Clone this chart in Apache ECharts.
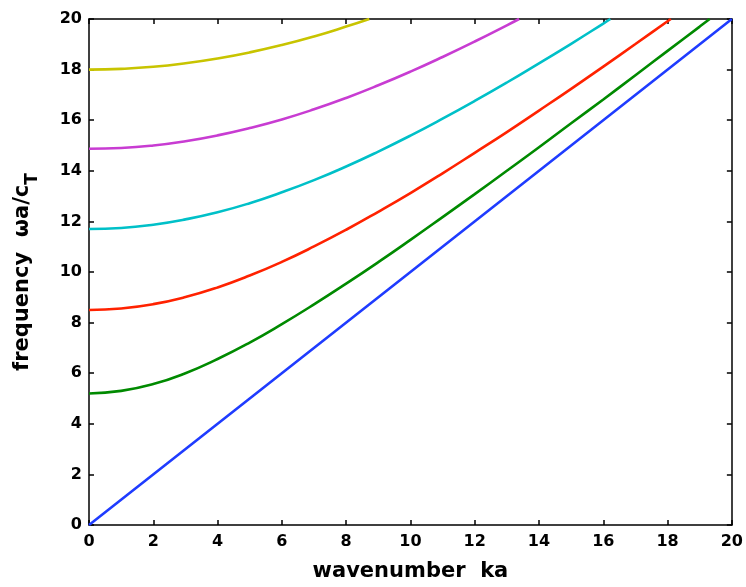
<!DOCTYPE html>
<html>
<head>
<meta charset="utf-8">
<script src="https://cdn.jsdelivr.net/npm/echarts@6/dist/echarts.min.js"></script>
<style>
html,body{margin:0;padding:0;background:#fff;}
#c{width:746px;height:587px;}
</style>
</head>
<body>
<div id="c"></div>
<script>
// Dispersion branches: [ka, ωa/c_T]
const mode0 = [[0,0],[5,5],[10,10],[15,15],[20,20]];
const mode1 = [[0,5.20],[1,5.30],[2,5.57],[3,6.00],[4,6.56],[5,7.21],[6,7.94],[7,8.72],[8,9.54],[9,10.39],[10,11.27],[11,12.17],[12,13.08],[13,14.00],[14,14.93],[15,15.88],[16,16.82],[17,17.78],[18,18.74],[19,19.70],[19.31,20]];
const mode2 = [[0,8.50],[1,8.56],[2,8.73],[3,9.01],[4,9.39],[5,9.86],[6,10.40],[7,11.01],[8,11.67],[9,12.38],[10,13.12],[11,13.90],[12,14.71],[13,15.53],[14,16.38],[15,17.24],[16,18.12],[17,19.01],[18,19.91],[18.1,20]];
const mode3 = [[0,11.70],[1,11.74],[2,11.87],[3,12.08],[4,12.36],[5,12.72],[6,13.15],[7,13.63],[8,14.17],[9,14.76],[10,15.39],[11,16.06],[12,16.76],[13,17.49],[14,18.25],[15,19.02],[16,19.82],[16.22,20]];
const mode4 = [[0,14.87],[1,14.90],[2,15.00],[3,15.17],[4,15.40],[5,15.69],[6,16.03],[7,16.43],[8,16.88],[9,17.38],[10,17.92],[11,18.50],[12,19.11],[13,19.75],[13.38,20]];
const mode5 = [[0,18.00],[1,18.03],[2,18.11],[3,18.25],[4,18.44],[5,18.68],[6,18.97],[7,19.31],[8,19.70],[8.72,20]];
const xTicks = [0,2,4,6,8,10,12,14,16,18,20];
const yTicks = [0,2,4,6,8,10,12,14,16,18,20];

const seriesData = [mode0, mode1, mode2, mode3, mode4, mode5];
const colors = ['#1f3cff', '#008a00', '#ff2200', '#00c0c8', '#c83cd2', '#c8c400'];

const chart = echarts.init(document.getElementById('c'), null, {renderer:'canvas'});
const font = 'DejaVu Sans, Liberation Sans, sans-serif';
const axisLine = {show:true, onZero:false, lineStyle:{color:'#000', width:1.5}};
const axisTick = {show:true, inside:true, length:5, lineStyle:{color:'#000', width:1.5}};
chart.setOption({
  animation:false,
  backgroundColor:'#fff',
  grid:{left:89, right:11, top:19, bottom:59},
  xAxis:[{
    type:'value', min:0, max:20, interval:2,
    axisLine, axisTick, splitLine:{show:false},
    axisLabel:{color:'#000', fontFamily:font, fontWeight:'bold', fontSize:16, margin:9,
      formatter:v => xTicks.includes(v) ? String(v) : ''},
    name:'wavenumber  ka', nameLocation:'middle', nameGap:36,
    nameTextStyle:{color:'#000', fontFamily:font, fontWeight:'bold', fontSize:21}
  },{
    type:'value', min:0, max:20, interval:2, position:'top',
    axisLine, axisTick, axisLabel:{show:false}, splitLine:{show:false}
  }],
  yAxis:[{
    type:'value', min:0, max:20, interval:2,
    axisLine, axisTick, splitLine:{show:false},
    axisLabel:{color:'#000', fontFamily:font, fontWeight:'bold', fontSize:16, margin:7,
      formatter:v => yTicks.includes(v) ? String(v) : ''},
    name:'{a|frequency  ωa/c}{s|T}', nameLocation:'middle', nameGap:56,
    nameTextStyle:{color:'#000', fontFamily:font, fontWeight:'bold', fontSize:21,
      rich:{a:{color:'#000', fontFamily:font, fontWeight:'bold', fontSize:21, verticalAlign:'bottom'},
            s:{color:'#000', fontFamily:font, fontWeight:'bold', fontSize:17, verticalAlign:'bottom', padding:[0,0,-8,0]}}}
  },{
    type:'value', min:0, max:20, interval:2, position:'right',
    axisLine, axisTick, axisLabel:{show:false}, splitLine:{show:false}
  }],
  series: seriesData.map((d,i)=>({
    type:'line', data:d, smooth:true, showSymbol:false, clip:true,
    lineStyle:{color:colors[i], width:2.6}
  }))
});
</script>
</body>
</html>
